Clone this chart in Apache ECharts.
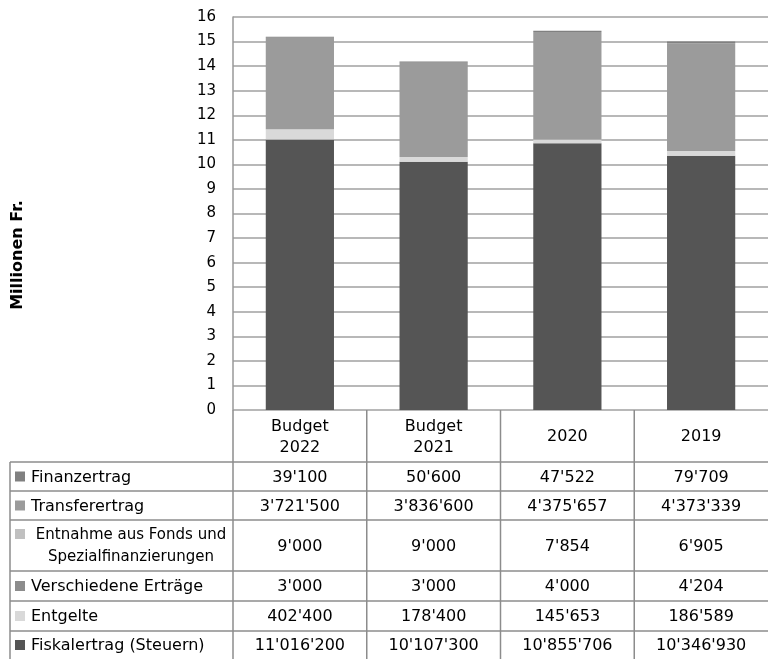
<!DOCTYPE html>
<html><head><meta charset="utf-8">
<script src="https://cdn.jsdelivr.net/npm/echarts@6/dist/echarts.min.js"></script>
<style>html,body{margin:0;padding:0;background:#fff}#c{width:768px;height:659px}</style>
</head><body><div id="c"></div>
<script>
var categories = ['Budget\n2022', 'Budget\n2021', '2020', '2019'];
var seriesNames = ['Fiskalertrag (Steuern)', 'Entgelte', 'Verschiedene Erträge', 'Entnahme aus Fonds und\nSpezialfinanzierungen', 'Transferertrag', 'Finanzertrag'];
var fiskalertrag = [11016200, 10107300, 10855706, 10346930];
var entgelte = [402400, 178400, 145653, 186589];
var verschiedene = [3000, 3000, 4000, 4204];
var entnahme = [9000, 9000, 7854, 6905];
var transferertrag = [3721500, 3836600, 4375657, 4373339];
var finanzertrag = [39100, 50600, 47522, 79709];
var yTicks = [0, 16, 1];
var colors = ['#555555', '#d9d9d9', '#8c8c8c', '#c0c0c0', '#9b9b9b', '#808080'];

var allData = [fiskalertrag, entgelte, verschiedene, entnahme, transferertrag, finanzertrag];
var FONT = 'DejaVu Sans';
var chart = echarts.init(document.getElementById('c'));
var G = {left: 233, top: 17, right: 0, bottom: 249};

function fmt(v){ return String(v).replace(/\B(?=(\d{3})+(?!\d))/g, "'"); }

var series = allData.map(function(arr, i){
  return {
    name: seriesNames[i], type: 'bar', stack: 'total', barWidth: '51%',
    data: arr.map(function(v){ return v / 1e6; }),
    itemStyle: {color: colors[i]},
    emphasis: {disabled: true}
  };
});

chart.setOption({
  animation: false,
  grid: G,
  xAxis: {type: 'category', data: categories, axisLine: {show: false}, axisTick: {show: false}, axisLabel: {show: false}},
  yAxis: {type: 'value', min: yTicks[0], max: yTicks[1], interval: yTicks[2],
    axisLine: {show: true, lineStyle: {color: '#999', width: 1.5}},
    axisTick: {show: false},
    axisLabel: {fontFamily: FONT, fontSize: 15, color: '#000', margin: 17},
    splitLine: {lineStyle: {color: '#a0a0a0', width: 1.5}}},
  series: series
});

var g = [];
var lineStyle = {stroke: '#8c8c8c', lineWidth: 1.5};
var tableTop = 410, headerBot = 462;
var rowOrder = [5, 4, 3, 2, 1, 0];
var rowH = [29, 29, 51, 30, 30, 28];
var TF = '16px "' + FONT + '"';
var colX = [];
for (var c = 0; c < categories.length; c++) {
  colX.push(G.left + (768 - G.left) * c / categories.length);
}
for (var c = 0; c < colX.length; c++) {
  g.push({type: 'line', shape: {x1: colX[c], y1: tableTop, x2: colX[c], y2: 659}, style: lineStyle, silent: true});
}
g.push({type: 'line', shape: {x1: 10, y1: headerBot, x2: 10, y2: 659}, style: lineStyle, silent: true});
g.push({type: 'line', shape: {x1: 10, y1: headerBot, x2: 768, y2: headerBot}, style: lineStyle, silent: true});
for (var c = 0; c < categories.length; c++) {
  var cx = chart.convertToPixel({xAxisIndex: 0}, c);
  g.push({type: 'text', x: cx, y: (tableTop + headerBot) / 2 + 1, style: {text: categories[c], font: TF, fill: '#000', align: 'center', verticalAlign: 'middle', lineHeight: 21}, silent: true});
}
var y = headerBot;
for (var r = 0; r < rowOrder.length; r++) {
  var si = rowOrder[r];
  var y2 = y + rowH[r];
  var mid = (y + y2) / 2;
  if (r < rowOrder.length - 1) {
    g.push({type: 'line', shape: {x1: 10, y1: y2, x2: 768, y2: y2}, style: lineStyle, silent: true});
  }
  var name = seriesNames[si];
  var multi = name.indexOf('\n') >= 0;
  g.push({type: 'rect', shape: {x: 15, y: (multi ? y + 9 : mid - 5), width: 10, height: 10}, style: {fill: colors[si]}, silent: true});
  g.push({type: 'text', x: multi ? 131 : 31, y: mid + 1, style: {text: name, font: multi ? '15px "' + FONT + '"' : TF, fill: '#000', align: multi ? 'center' : 'left', verticalAlign: 'middle', lineHeight: 22}, silent: true});
  for (var c = 0; c < categories.length; c++) {
    var cx = chart.convertToPixel({xAxisIndex: 0}, c);
    g.push({type: 'text', x: cx, y: mid + 1, style: {text: fmt(allData[si][c]), font: TF, fill: '#000', align: 'center', verticalAlign: 'middle'}, silent: true});
  }
  y = y2;
}
g.push({type: 'text', x: 18, y: 255, rotation: Math.PI / 2, style: {text: 'Millionen Fr.', font: 'bold 16px "' + FONT + '"', fill: '#000', align: 'center', verticalAlign: 'middle'}, silent: true});
chart.setOption({graphic: {elements: g}});
</script></body></html>
